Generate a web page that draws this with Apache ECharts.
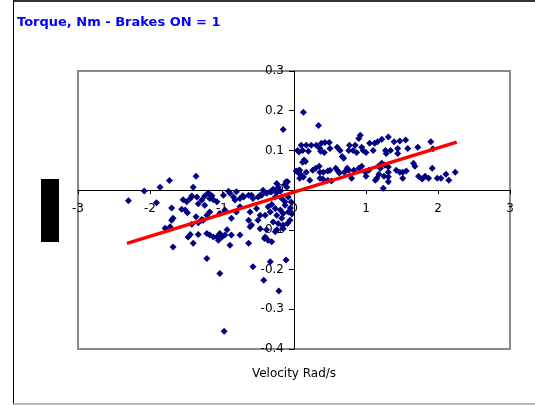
<!DOCTYPE html>
<html>
<head>
<meta charset="utf-8">
<script src="https://cdn.jsdelivr.net/npm/echarts@6/dist/echarts.min.js"></script>
<style>
html,body{margin:0;padding:0;background:#fff;}
#chart{width:535px;height:405px;}
</style>
</head>
<body>
<div id="chart"></div>
<script>
// Torque (Nm) vs velocity (rad/s), brakes ON
const titleText = 'Torque, Nm - Brakes ON = 1';
const xAxisTitle = 'Velocity Rad/s';

const positivePoints = [
  [0.13,0.196],[0.34,0.163],
  [0.10,0.113],[0.17,0.113],[0.24,0.113],[0.05,0.100],[0.12,0.100],[0.20,0.098],[0.31,0.113],[0.36,0.105],
  [0.38,0.118],[0.43,0.120],[0.49,0.120],[0.37,0.098],[0.42,0.095],[0.50,0.105],[0.60,0.108],[0.64,0.100],
  [0.67,0.085],[0.69,0.080],[0.76,0.100],[0.77,0.113],[0.85,0.113],[0.90,0.130],[0.92,0.138],[0.82,0.100],
  [0.87,0.095],[0.94,0.108],[0.96,0.100],[1.00,0.095],[1.05,0.118],[1.12,0.118],[1.16,0.122],[1.10,0.100],
  [1.27,0.100],[0.14,0.076],[0.12,0.070],[0.16,0.072],
  [1.31,0.134],[1.39,0.122],[1.47,0.124],[1.55,0.126],[1.44,0.105],[1.44,0.092],[1.34,0.100],[1.28,0.092],
  [1.58,0.105],[1.72,0.108],[1.90,0.122],[1.93,0.104],[1.22,0.128],
  [0.08,0.050],[0.10,0.038],[0.08,0.030],[0.13,0.033],[0.17,0.045],[0.26,0.050],[0.30,0.055],[0.35,0.060],
  [0.36,0.045],[0.41,0.045],[0.47,0.048],[0.50,0.050],[0.58,0.055],[0.61,0.048],[0.63,0.043],[0.74,0.055],
  [0.76,0.050],[0.83,0.050],[0.90,0.055],[0.94,0.060],[0.99,0.045],[1.04,0.050],[1.13,0.025],[1.15,0.030],
  [1.18,0.040],[1.20,0.055],[1.22,0.068],[1.24,0.005],[1.25,0.035],[1.17,0.060],[0.36,0.030],[0.40,0.028],
  [0.47,0.025],[0.52,0.023],[0.22,0.025],[0.70,0.045],[0.80,0.030],[1.00,0.035],
  [1.26,0.063],[1.31,0.058],[1.31,0.045],[1.31,0.034],[1.31,0.021],[1.42,0.050],[1.47,0.045],[1.51,0.045],
  [1.56,0.048],[1.51,0.030],[1.66,0.068],[1.68,0.060],[1.73,0.035],[1.78,0.028],[1.82,0.035],[1.87,0.030],
  [1.92,0.055],[1.99,0.030],[2.04,0.030],[2.11,0.040],[2.15,0.025],[2.24,0.045],
  [0.03,0.048],[0.07,0.096],[0.07,0.050],[0.07,0.042]
];

const negativePoints = [
  [-2.30,-0.027],[-2.08,-0.002],[-1.86,0.007],[-1.73,0.024],[-1.36,0.035],[-1.40,0.007],[-1.91,-0.032],
  [-1.72,-0.092],[-1.68,-0.071],[-1.79,-0.096],[-1.70,-0.045],[-1.70,-0.076],[-1.68,-0.143],
  [-1.54,-0.024],[-1.49,-0.029],[-1.51,-0.050],[-1.48,-0.057],[-1.44,-0.021],[-1.42,-0.015],[-1.35,-0.017],
  [-1.33,-0.034],[-1.28,-0.025],[-1.24,-0.015],[-1.19,-0.007],[-1.17,-0.021],[-1.12,-0.024],[-1.07,-0.029],
  [-1.24,-0.038],[-1.36,-0.067],[-1.33,-0.082],[-1.28,-0.074],[-1.21,-0.063],[-1.56,-0.048],[-1.42,-0.086],
  [-1.26,-0.076],[-1.47,-0.118],[-1.44,-0.112],[-1.33,-0.112],[-1.40,-0.134],
  [-1.21,-0.109],[-1.12,-0.118],[-1.05,-0.126],[-1.00,-0.118],[-0.96,-0.113],[-0.89,-0.139],[-0.87,-0.113],
  [-1.21,-0.172],[-1.03,-0.210],[-0.97,-0.355],[-0.63,-0.134],[-0.57,-0.193],[-0.42,-0.227],[-0.33,-0.180],
  [-0.21,-0.254],[-0.11,-0.176],[-0.61,-0.092],[-0.47,-0.097],[-0.40,-0.118],[-0.36,-0.126],[-0.31,-0.130],
  [-0.24,-0.100],[-0.41,-0.122],[-0.15,0.153],[-0.11,0.021],
  [-1.14,-0.014],[-0.98,-0.013],[-0.91,-0.003],[-0.89,-0.008],[-0.84,-0.017],[-0.80,-0.004],[-0.75,-0.021],
  [-0.71,-0.014],[-0.63,-0.013],[-0.57,-0.021],[-0.50,-0.017],[-0.45,-0.013],[-0.38,-0.008],[-0.31,-0.004],
  [-0.24,-0.006],[-0.19,-0.003],[-0.125,0.014],[-0.09,0.021],[-0.26,-0.017],[-0.17,-0.021],[-0.125,-0.029],
  [-0.08,-0.017],[-0.82,-0.025],[-0.70,-0.017],[-0.59,-0.013],[-0.47,-0.013],[-0.43,0.000],[-0.33,-0.004],
  [-0.29,0.002],[-0.24,0.017],[-0.22,0.007],[-0.10,0.007],
  [-1.28,-0.076],[-1.17,-0.055],[-1.03,-0.059],[-0.96,-0.050],[-0.87,-0.071],[-0.80,-0.055],[-0.75,-0.042],
  [-0.63,-0.076],[-0.61,-0.055],[-0.52,-0.046],[-0.50,-0.076],[-0.47,-0.063],[-0.40,-0.063],[-0.36,-0.042],
  [-0.33,-0.055],[-0.31,-0.036],[-0.26,-0.046],[-0.24,-0.063],[-0.19,-0.050],[-0.17,-0.071],[-0.15,-0.059],
  [-0.125,-0.038],[-0.08,-0.055],[-0.056,-0.076],[-0.29,-0.080],[-0.22,-0.084],[-0.15,-0.088],[-0.09,-0.084],
  [-1.17,-0.113],[-1.07,-0.118],[-1.03,-0.109],[-0.93,-0.100],[-0.75,-0.113],[-0.59,-0.088],[-0.38,-0.100],
  [-0.26,-0.105],[-0.15,-0.097],[-0.04,-0.030],[-0.05,-0.045],[-0.03,-0.060]
];

const trendX = [-2.32, 2.26];
const trendY = [-0.134, 0.121];

const chart = echarts.init(document.getElementById('chart'), null, {renderer: 'canvas'});
const fmt = v => {
  const r = Math.round(v * 10) / 10;
  return r === 0 ? '0' : String(r);
};
// grid geometry: 432px wide for x in [-3,3] (72 px/unit), 278px high for y in [-0.4,0.3]
const gridLeft = 78, gridRight = 25, gridTop = 71, gridBottom = 56;
const gridW = 535 - gridLeft - gridRight;
const gridH = 405 - gridTop - gridBottom;
const yAxisOffset = -gridW * (3 / 6);          // move y-axis onto x = 0
const xAxisOffset = -gridH * (0.4 / 0.7);      // move x-axis onto y = 0

chart.setOption({
  animation: false,
  backgroundColor: '#ffffff',
  title: {
    text: titleText,
    left: 17,
    top: 16,
    padding: 0,
    textStyle: {
      color: '#0000ff',
      fontFamily: 'DejaVu Sans',
      fontWeight: 'bold',
      fontSize: 13
    }
  },
  grid: {
    left: gridLeft,
    right: gridRight,
    top: gridTop,
    bottom: gridBottom,
    outerBoundsMode: 'none',
    containLabel: false,
    show: true,
    borderColor: '#8a8a8a',
    borderWidth: 2,
    backgroundColor: 'transparent'
  },
  xAxis: {
    type: 'value',
    min: -3,
    max: 3,
    interval: 1,
    position: 'bottom',
    offset: xAxisOffset,
    name: xAxisTitle,
    nameLocation: 'middle',
    nameGap: 178,
    nameTextStyle: {color: '#000', fontFamily: 'DejaVu Sans', fontSize: 12},
    axisLine: {onZero: false, lineStyle: {color: '#000', width: 1}},
    axisTick: {show: true, length: 4, lineStyle: {color: '#000'}},
    axisLabel: {color: '#000', fontFamily: 'DejaVu Sans', fontSize: 12, margin: 13, formatter: fmt},
    splitLine: {show: false}
  },
  yAxis: {
    type: 'value',
    min: -0.4,
    max: 0.3,
    interval: 0.1,
    position: 'left',
    offset: yAxisOffset,
    axisLine: {onZero: false, lineStyle: {color: '#000', width: 1}},
    axisTick: {show: true, length: 5, lineStyle: {color: '#000'}},
    axisLabel: {color: '#000', fontFamily: 'DejaVu Sans', fontSize: 12, margin: 10, formatter: fmt},
    splitLine: {show: false}
  },
  graphic: [
    {type: 'line', shape: {x1: 13, y1: 1, x2: 535, y2: 1}, style: {stroke: '#333', lineWidth: 2}, silent: true},
    {type: 'line', shape: {x1: 13.5, y1: 0, x2: 13.5, y2: 404}, style: {stroke: '#000', lineWidth: 1}, silent: true},
    {type: 'line', shape: {x1: 13, y1: 404, x2: 535, y2: 404}, style: {stroke: '#a0a0a0', lineWidth: 1.5}, silent: true},
    {type: 'rect', shape: {x: 41, y: 179, width: 18, height: 63}, style: {fill: '#000'}, silent: true}
  ],
  series: [
    {
      type: 'scatter',
      data: negativePoints.concat(positivePoints),
      symbol: 'diamond',
      symbolSize: 7,
      itemStyle: {color: '#000080', opacity: 1},
      z: 3
    },
    {
      type: 'line',
      data: trendX.map((x, i) => [x, trendY[i]]),
      symbol: 'none',
      lineStyle: {color: '#ff0000', width: 3.5},
      z: 4
    }
  ]
});
</script>
</body>
</html>
